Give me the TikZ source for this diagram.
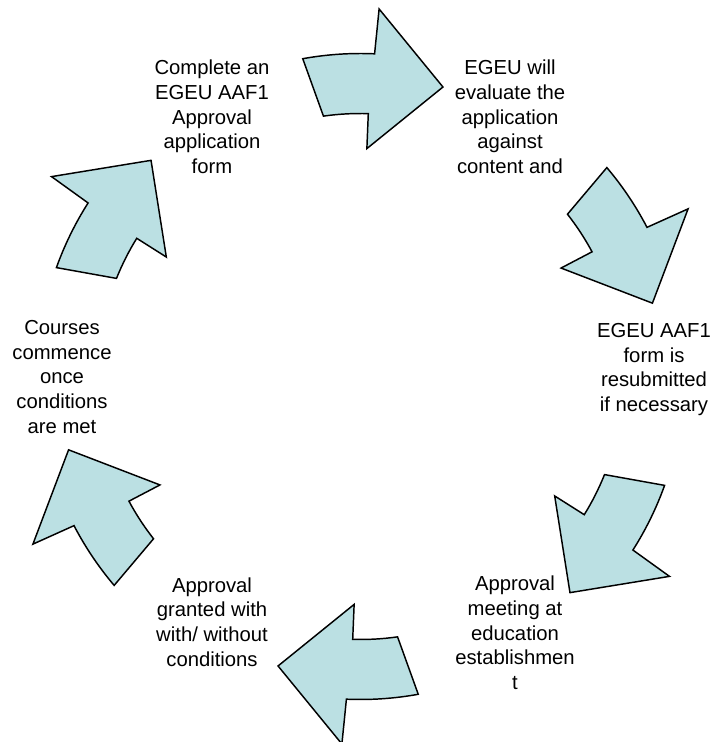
\documentclass[tikz,border=0pt]{standalone}
\usepackage{fontspec}
\setmainfont{Liberation Sans}

\definecolor{arrowfill}{RGB}{187,224,227}

\tikzset{
    cyclearrow/.style={draw=black, line width=1.1pt, fill=arrowfill, line join=miter},
    steptext/.style={align=center, inner sep=0pt, font=\fontsize{15.2}{18.5}\selectfont},
    bentarrow/.pic={
        \draw[cyclearrow] (100.3:323) arc[start angle=100.3, end angle=87.5, radius=323]
            -- (87.1:368) -- (74.1:301) -- (88.4:228) -- (88.3:263)
            arc[start angle=88.3, end angle=98.1, radius=263] -- cycle;
    }
}

\begin{document}
\begin{tikzpicture}[x=0.75pt, y=0.75pt]
            \useasboundingbox (0,0) rectangle (719,742);
            \coordinate (c) at (360.5,365.5);

            % arrows round the cycle
            \pic at (c) {bentarrow};
            \pic[rotate=-60] at (c) {bentarrow};
            \pic[rotate=-120] at (c) {bentarrow};
            \pic[rotate=180] at (c) {bentarrow};
            \pic[rotate=120] at (c) {bentarrow};
            \pic[rotate=60] at (c) {bentarrow};

            % steps
            \node[steptext] (form) at (212,625) {Complete an\\EGEU AAF1\\Approval\\application\\form};
            \node[steptext] (evaluate) at (510,625) {EGEU will\\evaluate the\\application\\against\\content and};
            \node[steptext] (resubmit) at (654,372.5) {EGEU AAF1\\form is\\resubmitted\\if necessary};
            \node[steptext] (meeting) at (515,109) {Approval\\meeting at\\education\\establishmen\\t};
            \node[steptext] (granted) at (212,120) {Approval\\granted with\\with/ without\\conditions};
            \node[steptext] (commence) at (62,365) {Courses\\commence\\once\\conditions\\are met};
        \end{tikzpicture}
\end{document}
